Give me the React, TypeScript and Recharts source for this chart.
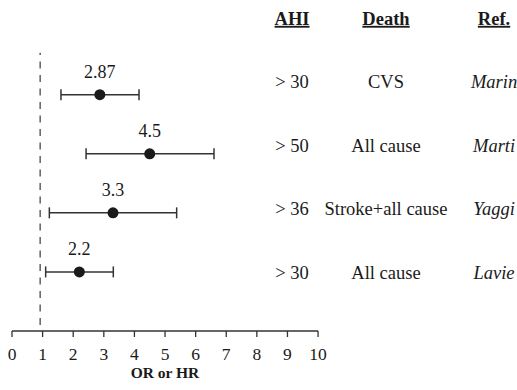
import React from 'react';
import { ScatterChart, Scatter, XAxis, YAxis, ErrorBar, LabelList, ReferenceLine } from 'recharts';

// studies (top to bottom)
const refs = ['Marin', 'Marti', 'Yaggi', 'Lavie'];
const ahiCut = ['> 30', '> 50', '> 36', '> 30'];
const deathType = ['CVS', 'All cause', 'Stroke+all cause', 'All cause'];
const ratios = [2.87, 4.5, 3.3, 2.2];
const ciLow = [1.6, 2.42, 1.22, 1.1];
const ciHigh = [4.15, 6.6, 5.38, 3.31];
const headers = ['AHI', 'Death', 'Ref.'];
const xTicks = [0, 1, 2, 3, 4, 5, 6, 7, 8, 9, 10];
const nullValue = 0.92;

// layout helpers (x positions of the text columns, in axis units)
const X_MAX = 16.5;
const colX = [9.15, 12.22, 15.75];
const FONT = "'Liberation Serif', 'Times New Roman', serif";
const INK = '#1a1a1a';

const n = ratios.length;
const points = ratios.map((v, i) => ({
  x: v,
  y: n - i,
  err: [v - ciLow[i], ciHigh[i] - v],
  label: String(v),
}));

const columns = [ahiCut, deathType, refs];
const cells = columns.flatMap((col, c) => [
  { x: colX[c], y: n + 1, text: headers[c], head: true, italic: false },
  ...col.map((t, i) => ({ x: colX[c], y: n - i, text: t, head: false, italic: c === 2 })),
]);

const renderCell = (props: any) => {
  const { cx, cy, payload } = props;
  return (
    <text
      x={cx}
      y={cy}
      dy="0.35em"
      textAnchor="middle"
      fill={INK}
      style={{
        fontFamily: FONT,
        fontSize: 18.5,
        fontWeight: payload.head ? 700 : 400,
        fontStyle: payload.italic ? 'italic' : 'normal',
        textDecoration: payload.head ? 'underline' : 'none',
      }}
    >
      {payload.text}
    </text>
  );
};

const renderDot = (props: any) => <circle cx={props.cx} cy={props.cy} r={5.5} fill={INK} />;

const renderTitle = (props: any) => {
  const vb = props.viewBox || {};
  return (
    <text
      x={vb.x + (vb.width * 5) / X_MAX}
      y={vb.y + 42}
      dy="0.35em"
      textAnchor="middle"
      fill={INK}
      style={{ fontFamily: FONT, fontSize: 15.5, fontWeight: 700 }}
    >
      OR or HR
    </text>
  );
};

export default function App() {
  return (
    <div style={{ position: 'absolute', left: 0, top: 0, width: 517, height: 390, fontFamily: FONT, background: '#fff' }}>
      <style>{`svg text { font-family: ${FONT}; }`}</style>
      <ScatterChart width={517} height={390} margin={{ top: 12, right: 0, bottom: 0, left: 12 }}>
        <XAxis
          type="number"
          dataKey="x"
          domain={[0, X_MAX]}
          ticks={xTicks}
          interval={0}
          axisLine={false}
          tickLine={{ stroke: '#333', strokeWidth: 1.3 }}
          tickSize={6}
          tickMargin={11}
          height={59}
          tick={{ fill: INK, fontSize: 17.5 }}
          label={{ content: renderTitle }}
        />
        <YAxis yAxisId="main" type="number" dataKey="y" domain={[0, 5.4]} hide />
        <YAxis yAxisId="table" type="number" dataKey="y" domain={[0.08, 5.1]} hide />
        <ReferenceLine
          yAxisId="main"
          segment={[{ x: 0, y: 0 }, { x: 10, y: 0 }]}
          stroke="#333"
          strokeWidth={1.3}
          ifOverflow="visible"
        />
        <ReferenceLine
          yAxisId="main"
          segment={[{ x: nullValue, y: 0.1 }, { x: nullValue, y: 4.71 }]}
          stroke="#555"
          strokeWidth={1.4}
          strokeDasharray="7 6.5"
          ifOverflow="visible"
        />
        <Scatter yAxisId="main" data={points} shape={renderDot} isAnimationActive={false}>
          <ErrorBar dataKey="err" direction="x" width={5.5} stroke="#333" strokeWidth={1.5} isAnimationActive={false} />
          <LabelList dataKey="label" position="top" offset={12} fontSize={18} fill={INK} />
        </Scatter>
        <Scatter yAxisId="table" data={cells} shape={renderCell} isAnimationActive={false} />
      </ScatterChart>
    </div>
  );
}
